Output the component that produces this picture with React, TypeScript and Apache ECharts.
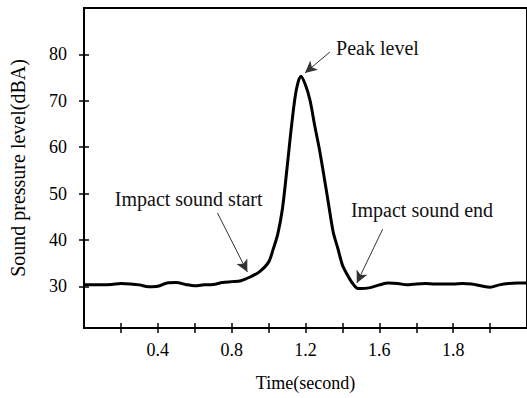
import React, { useEffect, useRef } from "react";
import * as echarts from "echarts";

// Time (s) and sound pressure level (dBA)
const times = [
  0.0, 0.05, 0.1, 0.15, 0.2, 0.25, 0.3, 0.35, 0.4, 0.45, 0.5, 0.55, 0.6, 0.65, 0.7, 0.75,
  0.8, 0.85, 0.9, 0.95, 1.0, 1.025, 1.05, 1.075, 1.1, 1.125, 1.15, 1.175, 1.2, 1.225, 1.25,
  1.275, 1.3, 1.325, 1.35, 1.375, 1.4, 1.425, 1.45, 1.475, 1.5, 1.55, 1.6, 1.65, 1.7, 1.75,
  1.8, 1.85, 1.9, 1.95, 2.0, 2.05, 2.1, 2.15, 2.2, 2.25, 2.3, 2.35, 2.4,
];
const levels = [
  30.3, 30.3, 30.3, 30.4, 30.6, 30.5, 30.3, 29.9, 30.0, 30.7, 30.8, 30.4, 30.1, 30.3, 30.4, 30.8,
  31.0, 31.2, 32.0, 33.1, 35.2, 38.0, 41.3, 46.7, 55.5, 64.8, 72.3, 75.3, 73.4, 70.0, 64.6,
  59.6, 53.8, 47.7, 41.7, 38.2, 34.6, 32.6, 30.9, 29.7, 29.5, 29.7, 30.3, 30.7, 30.6, 30.3,
  30.5, 30.6, 30.5, 30.5, 30.5, 30.6, 30.5, 30.1, 29.8, 30.3, 30.6, 30.7, 30.7,
];

// Axis ticks and labels
const xTickValues = [0.2, 0.4, 0.6, 0.8, 1.0, 1.2, 1.4, 1.6, 1.8, 2.0, 2.2];
const xLabelValues = [0.4, 0.8, 1.2, 1.6, 2.0];
const xLabelTexts = ["0.4", "0.8", "1.2", "1.6", "1.8"];
const yTickValues = [30, 40, 50, 60, 70, 80];

// Annotations: text, text centre, arrow start, arrow tip (data coordinates)
const annotationTexts = ["Peak level", "Impact sound start", "Impact sound end"];
const annotationTextPos = [
  [1.59, 81.3],
  [0.567, 48.8],
  [1.831, 46.4],
];
const arrowFrom = [
  [1.332, 80.5],
  [0.723, 45.8],
  [1.618, 42.3],
];
const arrowTo = [
  [1.197, 76.0],
  [0.885, 33.1],
  [1.478, 30.7],
];

const FONT = "Liberation Serif";

export default function App() {
  const ref = useRef<HTMLDivElement>(null);
  useEffect(() => {
    if (!ref.current) return;
    const chart = echarts.init(ref.current, null, { renderer: "svg" });
    const xMin = 0,
      xMax = 2.4,
      yMin = 21,
      yMax = 90;
    const axisLine = { show: true, lineStyle: { color: "#000", width: 2 } };
    const tickStyle = { color: "#000", width: 1.5 };
    chart.setOption({
      animation: false,
      backgroundColor: "#fff",
      grid: {
        left: 83,
        top: 8,
        right: -2,
        bottom: 70,
        show: true,
        borderColor: "#000",
        borderWidth: 2,
        backgroundColor: "transparent",
      },
      xAxis: [
        {
          type: "value",
          min: xMin,
          max: xMax,
          position: "bottom",
          axisLine,
          splitLine: { show: false },
          axisTick: { show: true, inside: false, length: 5, lineStyle: tickStyle, customValues: xTickValues },
          axisLabel: {
            show: true,
            customValues: xLabelValues,
            margin: 13,
            color: "#000",
            fontFamily: FONT,
            fontSize: 18,
            formatter: (v: number) => {
              const i = xLabelValues.findIndex((p) => Math.abs(p - v) < 1e-6);
              return i >= 0 ? xLabelTexts[i] : "";
            },
          },
          name: "Time(second)",
          nameLocation: "middle",
          nameGap: 46,
          nameTextStyle: { color: "#000", fontFamily: FONT, fontSize: 18 },
        },
        {
          type: "value",
          min: xMin,
          max: xMax,
          position: "bottom",
          axisLine,
          splitLine: { show: false },
          axisTick: { show: true, inside: true, length: 5, lineStyle: tickStyle, customValues: xTickValues },
          axisLabel: { show: false },
        },
      ],
      yAxis: [
        {
          type: "value",
          min: yMin,
          max: yMax,
          position: "left",
          axisLine,
          splitLine: { show: false },
          axisTick: { show: true, inside: false, length: 5, lineStyle: tickStyle, customValues: yTickValues },
          axisLabel: {
            show: true,
            customValues: yTickValues,
            margin: 17,
            color: "#000",
            fontFamily: FONT,
            fontSize: 18,
          },
          name: "Sound pressure level(dBA)",
          nameLocation: "middle",
          nameGap: 56,
          nameTextStyle: { color: "#000", fontFamily: FONT, fontSize: 20 },
        },
        {
          type: "value",
          min: yMin,
          max: yMax,
          position: "left",
          axisLine,
          splitLine: { show: false },
          axisTick: { show: true, inside: true, length: 5, lineStyle: tickStyle, customValues: yTickValues },
          axisLabel: { show: false },
        },
      ],
      series: [
        {
          type: "line",
          xAxisIndex: 0,
          yAxisIndex: 0,
          data: times.map((t, i) => [t, levels[i]]),
          showSymbol: false,
          smooth: 0.3,
          lineStyle: { color: "#000", width: 3 },
          markLine: {
            silent: true,
            symbol: ["none", "arrow"],
            symbolSize: [9, 12],
            label: { show: false },
            lineStyle: { color: "#333", width: 1, type: "solid" },
            data: arrowFrom.map((f, i) => [{ coord: f }, { coord: arrowTo[i] }]),
          },
          markPoint: {
            silent: true,
            symbol: "circle",
            symbolSize: 1,
            itemStyle: { color: "transparent" },
            label: {
              show: true,
              position: "inside",
              color: "#111",
              fontFamily: FONT,
              fontSize: 20,
              formatter: (p: any) => p.name,
            },
            data: annotationTexts.map((t, i) => ({ name: t, coord: annotationTextPos[i] })),
          },
        },
      ],
    });
    return () => chart.dispose();
  }, []);
  return (
    <div
      ref={ref}
      style={{ position: "fixed", left: 0, top: 0, width: 527, height: 398 }}
    />
  );
}
